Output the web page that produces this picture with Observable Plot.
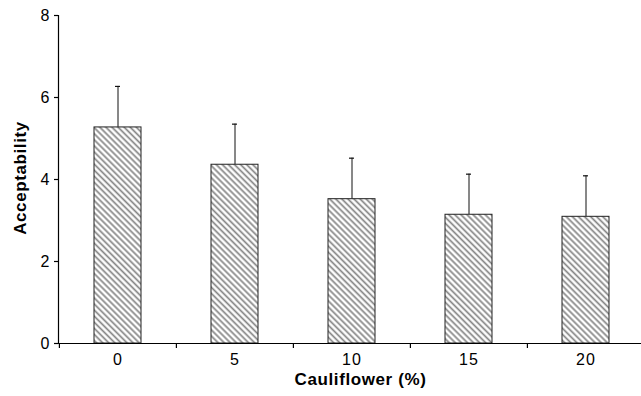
<!DOCTYPE html>
<html><head><meta charset="utf-8">
<script src="https://cdn.jsdelivr.net/npm/d3@7"></script>
<script src="https://cdn.jsdelivr.net/npm/@observablehq/plot@0.6"></script>
<style>body{margin:0;background:#fff;}</style>
</head><body><div id="chart"></div>
<script>
const categories = ["0", "5", "10", "15", "20"];
const means = [5.27, 4.36, 3.52, 3.14, 3.09];
const sds = [1.00, 0.99, 1.00, 0.99, 1.00];
const yTicks = [0, 2, 4, 6, 8];
const xTitle = "Cauliflower (%)";
const yTitle = "Acceptability";

const data = categories.map((c, i) => ({c, m: means[i], top: means[i] + sds[i]}));

const hatch = () => {
  const defs = d3.create("svg:defs");
  const s = 4.3;
  const p = defs.append("pattern").attr("id", "hatch")
    .attr("patternUnits", "userSpaceOnUse")
    .attr("width", s).attr("height", s)
    .attr("patternTransform", "rotate(-45)");
  p.append("rect").attr("width", s).attr("height", s).attr("fill", "white");
  p.append("line").attr("x1", s / 2).attr("y1", 0).attr("x2", s / 2).attr("y2", s)
    .attr("stroke", "#858585").attr("stroke-width", 1.7);
  return defs.node();
};

const chart = Plot.plot({
  width: 641, height: 396,
  marginLeft: 58, marginRight: -3, marginTop: 15, marginBottom: 53,
  style: {fontFamily: "'Liberation Sans', Arial, sans-serif", fontSize: "16px", color: "black", background: "white", overflow: "visible"},
  x: {domain: categories, paddingInner: 0.6, paddingOuter: 0.3, label: null},
  y: {domain: [0, 8], label: null},
  marks: [
    hatch,
    Plot.ruleX(data, {x: "c", y1: "m", y2: "top", stroke: "#111", strokeWidth: 1}),
    Plot.tickY(data, {x: "c", y: "top", insetLeft: 21, insetRight: 21, stroke: "#111", strokeWidth: 1.2}),
    Plot.barY(data, {x: "c", y: "m", fill: "url(#hatch)", stroke: "#222", strokeWidth: 1}),
    Plot.ruleY([0], {stroke: "black", strokeWidth: 1.2}),
    Plot.frame({anchor: "left", stroke: "black", strokeWidth: 1.2}),
    Plot.axisY({ticks: yTicks, tickSize: 4, tickPadding: 4, label: null, fontSize: 16, stroke: "black", strokeWidth: 1.2}),
    Plot.axisX({tickSize: 0, tickPadding: 10, label: null, fontSize: 16}),
    Plot.axisX({tickSize: 5, tickFormat: () => "", dx: -58.6, label: null, stroke: "black", strokeWidth: 1.2}),
    Plot.text([xTitle], {text: d => d, frameAnchor: "bottom", dx: 9, dy: 41, fontWeight: "bold", fontSize: 17}),
    Plot.text([yTitle], {text: d => d, frameAnchor: "left", textAnchor: "middle", rotate: -90, dx: -38, dy: -1.5, fontWeight: "bold", fontSize: 17})
  ]
});
chart.querySelectorAll("text").forEach(t => t.setAttribute("letter-spacing", "0.6"));
chart.querySelectorAll("g[aria-label$='tick label'] text").forEach(t => t.setAttribute("letter-spacing", "1.2"));
document.getElementById("chart").append(chart);
</script>
</body></html>
